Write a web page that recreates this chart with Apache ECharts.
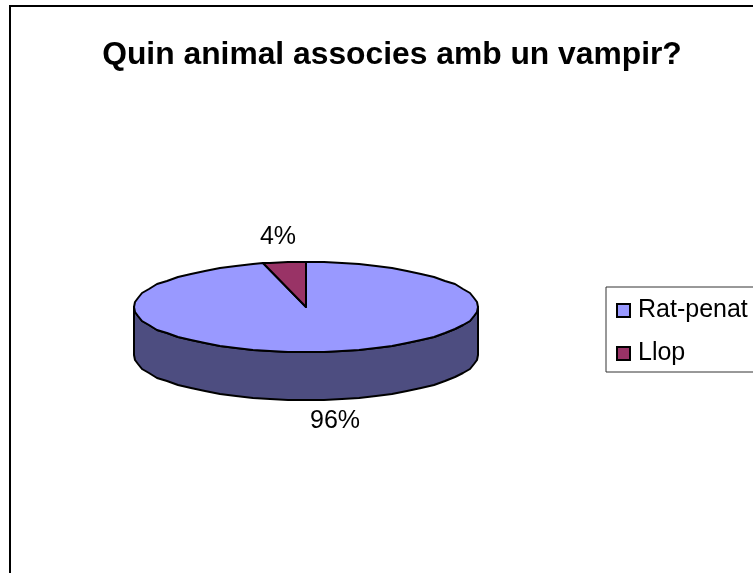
<!DOCTYPE html>
<html>
<head>
<meta charset="utf-8">
<style>html,body{margin:0;padding:0;background:#fff;overflow:hidden}#c{width:753px;height:573px}</style>
<script src="https://cdn.jsdelivr.net/npm/echarts@6/dist/echarts.min.js"></script>
</head>
<body>
<div id="c"></div>
<script>
const titleText = 'Quin animal associes amb un vampir?';
const categories = ['Rat-penat', 'Llop'];
const values = [96, 4];
const sliceColors = ['#9999FF', '#993366'];
const sideColors = ['#4D4D80', '#4D1A33'];

const FONT = '"Liberation Sans", Arial, sans-serif';
const geo = {cx: 306, cy: 307, rx: 172, ry: 45, depth: 48, step: 6, qx: 1, qy: 1};
const labelOffsets = [{dx: 7, dy: 21}, {dx: -6, dy: -25}];
const total = values.reduce((a, b) => a + b, 0);

function pt(deg, drop) {
  const r = deg * Math.PI / 180;
  return [geo.cx + Math.round(geo.rx * Math.sin(r) / geo.qx) * geo.qx,
          geo.cy - Math.round(geo.ry * Math.cos(r) / geo.qy) * geo.qy + (drop || 0)];
}
function arc(a0, a1, drop) {
  const out = [pt(a0, drop)];
  let a = (Math.floor(a0 / geo.step) + 1) * geo.step;
  for (; a < a1; a += geo.step) out.push(pt(a, drop));
  out.push(pt(a1, drop));
  return out;
}
function renderSlice(index) {
  return function (params, api) {
    const v = api.value(0);
    const before = values.slice(0, index).reduce((a, b) => a + b, 0);
    const a0 = before / total * 360;
    const a1 = (before + v) / total * 360;
    const children = [];
    const line = {stroke: '#000', lineWidth: 2, lineJoin: 'round'};
    const f0 = Math.max(a0, 90), f1 = Math.min(a1, 270);
    if (f1 > f0) {
      const top = arc(f0, f1, 0);
      const bottom = arc(f0, f1, geo.depth).reverse();
      children.push({type: 'polygon', shape: {points: top.concat(bottom)},
        style: Object.assign({fill: sideColors[index]}, line)});
    }
    const rim = arc(a0, a1, 0);
    children.push({type: 'polygon', shape: {points: [[geo.cx, geo.cy]].concat(rim)},
      style: Object.assign({fill: sliceColors[index]}, line)});
    const mid = (a0 + a1) / 2;
    const anchor = pt(mid, (mid > 90 && mid < 270) ? geo.depth : 0);
    children.push({type: 'text', style: {
      text: Math.round(v / total * 100) + '%',
      x: anchor[0] + labelOffsets[index].dx,
      y: anchor[1] + labelOffsets[index].dy,
      align: 'center', verticalAlign: 'middle',
      font: '25px ' + FONT, fill: '#000'}});
    return {type: 'group', children: children};
  };
}

const chart = echarts.init(document.getElementById('c'), null, {renderer: 'canvas'});
chart.setOption({
  animation: false,
  backgroundColor: '#fff',
  title: {text: titleText, left: 387, top: 34, textAlign: 'center',
    textStyle: {fontFamily: FONT, fontSize: 31.8, fontWeight: 'bold', color: '#000'}},
  legend: {
    left: 606, top: 287, orient: 'vertical', selectedMode: false,
    data: categories, icon: 'rect', itemWidth: 13, itemHeight: 13, itemGap: 18,
    padding: [11, 30, 6, 10], borderColor: '#333', borderWidth: 1,
    itemStyle: {borderColor: '#000', borderWidth: 2},
    textStyle: {fontFamily: FONT, fontSize: 25, color: '#000', padding: [0, 0, 4, 3]}
  },
  graphic: [{type: 'rect', z: -1, silent: true,
    shape: {x: 10, y: 6, width: 900, height: 800},
    style: {fill: '#fff', stroke: '#000', lineWidth: 2}}],
  series: categories.map((name, i) => ({
    type: 'custom', name: name, coordinateSystem: 'none', silent: true,
    itemStyle: {color: sliceColors[i]},
    data: [[values[i]]],
    renderItem: renderSlice(i)
  }))
});
</script>
</body>
</html>
